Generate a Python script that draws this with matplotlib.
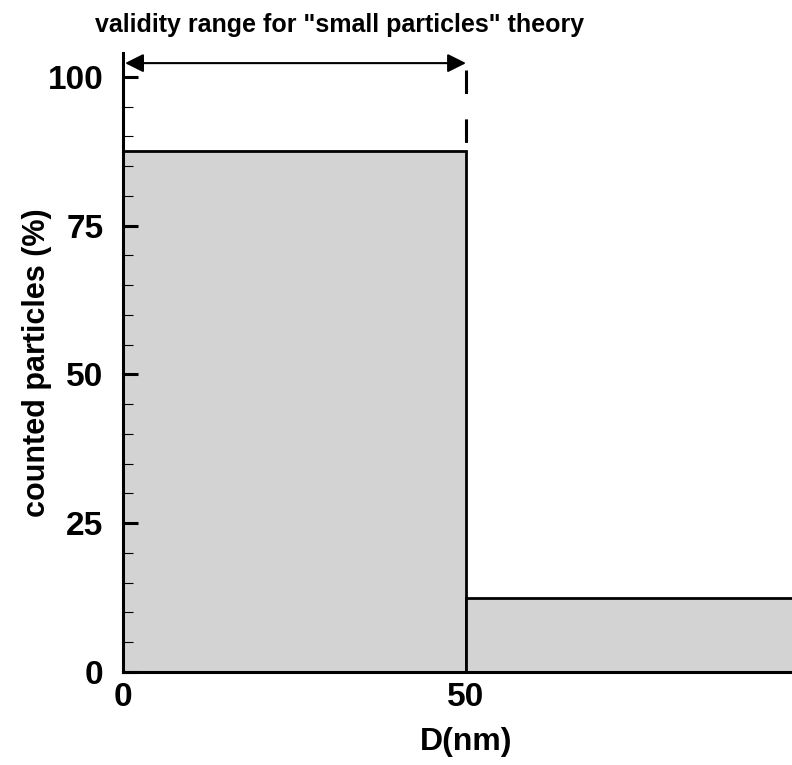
import numpy as np
import matplotlib
matplotlib.use("Agg")
import matplotlib.pyplot as plt
from matplotlib.ticker import MultipleLocator

# histogram data
bin_edges = [0, 50, 100]
percent = [87.5, 12.5]
x_ticks = [0, 50]
y_ticks = [0, 25, 50, 75, 100]
limit_D = 50          # upper limit of the "small particles" theory
arrow_y = 102.3

plt.rcParams['font.family'] = ['Liberation Sans', 'DejaVu Sans']
plt.rcParams['font.weight'] = 'bold'

fig = plt.figure(figsize=(7.92, 7.65), dpi=100)
ax = fig.add_axes([123/792, 93/765, 686/792, 619/765])

widths = np.diff(bin_edges)
ax.bar(bin_edges[:-1], percent, width=widths, align='edge',
       color='#d3d3d3', edgecolor='black', linewidth=2.0, zorder=1)

ax.set_xlim(0, 100)
ax.set_ylim(0, 104)
ax.set_xticks(x_ticks)
ax.set_yticks(y_ticks)
ax.yaxis.set_minor_locator(MultipleLocator(5))
ax.tick_params(axis='y', which='major', direction='in', length=11, width=2.2,
               labelsize=24, pad=14)
ax.tick_params(axis='y', which='minor', direction='in', length=7, width=0.8)
ax.tick_params(axis='x', which='both', length=0, pad=7, labelsize=24)
for lab in ax.get_xticklabels() + ax.get_yticklabels():
    lab.set_fontweight('bold')

for s in ['top', 'right']:
    ax.spines[s].set_visible(False)
for s in ['left', 'bottom']:
    ax.spines[s].set_linewidth(2.2)

ax.set_xlabel('D(nm)', fontsize=23, fontweight='bold', labelpad=10)
ax.set_ylabel('counted particles (%)', fontsize=22, fontweight='bold', labelpad=-3)

# validity range arrow and dashed limit
ax.annotate('', xy=(0.3, arrow_y), xytext=(limit_D, arrow_y),
            arrowprops=dict(arrowstyle='<|-|>', color='black', lw=1.5,
                            mutation_scale=28, shrinkA=0, shrinkB=0),
            annotation_clip=False)
ax.plot([limit_D, limit_D], [101.2, percent[0]], color='black', lw=2.2,
        dashes=(7.7, 8.3), clip_on=False)

fig.text(95/792, 1 - 25/765, 'validity range for "small particles" theory',
         fontsize=18, fontweight='bold', va='center', ha='left')

fig.savefig('out.png', dpi=100)
